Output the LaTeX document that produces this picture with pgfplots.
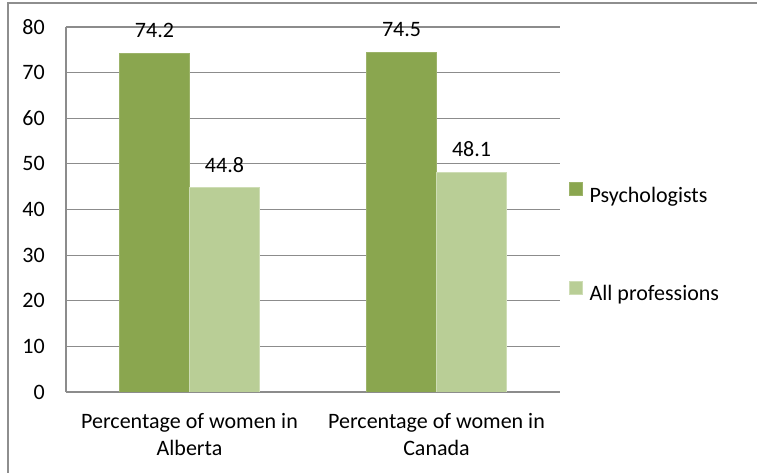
\documentclass[border=0pt]{standalone}
\usepackage{pgfplots}
\pgfplotsset{compat=1.18}
\usepackage{fontspec}
\setmainfont{Carlito}

\definecolor{psyGreen}{HTML}{8AA64F}
\definecolor{allGreen}{HTML}{B9CE96}
\definecolor{gridGray}{HTML}{8C8C8C}
\definecolor{frameGray}{HTML}{8E8E8E}

\newcommand{\chartfont}{\fontsize{22}{27}\selectfont}

\begin{document}
\begin{tikzpicture}[font=\chartfont]
\useasboundingbox (0pt,0pt) rectangle (757pt,473pt);
\begin{axis}[
  at={(66pt,81pt)}, anchor=south west,
  width=494pt, height=365pt, scale only axis,
  ybar=0pt, bar width=70pt,
  xmin=-0.5, xmax=1.5,
  ymin=0, ymax=80,
  ytick={0,10,...,80},
  xtick={0,1},
  xticklabels={{Percentage of women in\\Alberta},{Percentage of women in\\Canada}},
  /pgf/number format/assume math mode=true,
  major tick length=0pt,
  axis x line*=bottom, axis y line*=left,
  axis line style={draw=gridGray, line width=1.1pt, -},
  ymajorgrids, grid style={draw=gridGray, line width=1.1pt},
  tick label style={font=\chartfont},
  yticklabel style={anchor=east, inner sep=0pt, xshift=-21pt},
  xticklabel style={align=center, anchor=north, inner sep=0pt, yshift=-21pt},
  nodes near coords,
  every node near coord/.append style={anchor=south, inner sep=0pt, yshift=15pt, text=black, font=\chartfont},
  legend style={draw=none, fill=none, inner sep=0pt, outer sep=0pt, font=\chartfont,
    at={(axis description cs:1.018,0.408)}, anchor=west,
    row sep=75pt,
    /tikz/every odd column/.append style={column sep=5pt}},
  legend cell align=left,
  legend image code/.code={\fill[#1] (0pt,0pt) rectangle (13pt,13pt);},
]
\addplot[fill=psyGreen, draw=psyGreen!85!white, line width=0.8pt] coordinates {(0,74.2) (1,74.5)};
\addplot[fill=allGreen, draw=allGreen!70!white, line width=0.8pt] coordinates {(0,44.8) (1,48.1)};
\legend{Psychologists, All professions}
\end{axis}
\draw[frameGray, line width=1.3pt] (8pt,0pt) -- (8pt,470pt) -- (757pt,470pt);
\end{tikzpicture}
\end{document}
